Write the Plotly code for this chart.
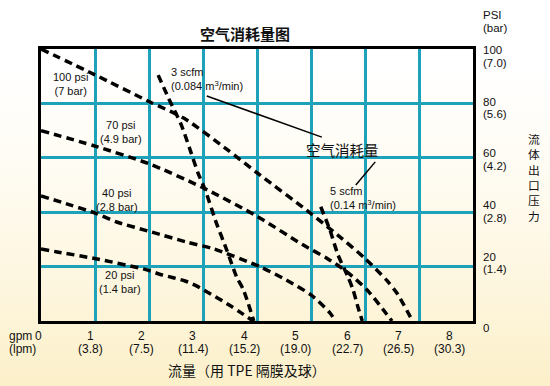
import plotly.graph_objects as go

# ---------------- data ----------------
gpm_ticks = [0, 1, 2, 3, 4, 5, 6, 7, 8]
lpm_labels = ["", "(3.8)", "(7.5)", "(11.4)", "(15.2)", "(19.0)", "(22.7)", "(26.5)", "(30.3)"]
psi_ticks = [100, 80, 60, 40, 20]
bar_labels = ["(7.0)", "(5.6)", "(4.2)", "(2.8)", "(1.4)"]

psi100_x = [0, 1, 2, 2.65, 3.45, 4.0, 5.0, 5.5, 6.0, 6.4, 6.6, 6.88]
psi100_y = [100, 90.5, 80.7, 74.5, 63, 54.5, 39.5, 31.5, 23, 15, 10, 0]

psi70_x = [0, 1, 2, 3, 4, 4.85, 5.3, 5.67, 6.04, 6.37, 6.5]
psi70_y = [70, 64.3, 57.8, 49, 38.5, 28, 23, 18, 11.4, 3.3, 0]

psi40_x = [0, 0.55, 1, 1.4, 2.05, 2.7, 3.2, 4.05, 4.55, 5.0, 5.35, 5.45]
psi40_y = [46, 42.6, 39.7, 36.4, 32.7, 29, 26.5, 20, 15, 9.6, 3, 0]

psi20_x = [0, 0.3, 1.04, 1.96, 2.2, 2.45, 2.67, 2.88, 3.1, 3.31, 3.53, 3.72, 3.93]
psi20_y = [26.5, 25.4, 22.8, 18.8, 17.2, 15.9, 14.7, 12.9, 10.4, 8, 5.3, 2.8, 0]

scfm3_x = [2.17, 2.36, 2.6, 2.76, 2.91, 3.04, 3.25, 3.44, 3.62, 3.75, 3.94]
scfm3_y = [90.4, 82, 72, 63, 54.3, 48.2, 35.9, 26.1, 16.3, 11.4, 0]

scfm5_x = [5.18, 5.35, 5.5, 5.69, 5.78, 5.87, 5.95]
scfm5_y = [42, 33.5, 24.3, 16, 11.4, 5.1, 0]

curve_labels = ["100 psi<br>(7 bar)", "70 psi<br>(4.9 bar)", "40 psi<br>(2.8 bar)", "20 psi<br>(1.4 bar)"]
curve_label_x = [0.54, 1.48, 1.41, 1.46]
curve_label_y = [87.3, 69.5, 44.5, 14.5]

right_title = "流体出口压力"

# ---------------- style ----------------
FONT = "Liberation Sans, Arial, Noto Sans CJK SC"
CJK = "Noto Sans CJK SC, Liberation Sans"
TEAL = "#1ea2ba"
W, H = 550, 386
ML, MR, MT, MB = 41, 77, 49, 65
PW, PH = W - ML - MR, H - MT - MB
LAB_R0, LAB_R1 = 0.0467, 8.451   # bottom labels sit on a slightly compressed scale

fig = go.Figure()

dash_line = dict(color="black", width=3.5, dash="8px,5px", shape="spline", smoothing=0.7)
for xs, ys in [(psi100_x, psi100_y), (psi70_x, psi70_y), (psi40_x, psi40_y),
               (psi20_x, psi20_y), (scfm3_x, scfm3_y), (scfm5_x, scfm5_y)]:
    fig.add_trace(go.Scatter(x=xs, y=ys, mode="lines", line=dash_line,
                             hoverinfo="skip", showlegend=False))

fig.add_trace(go.Scatter(x=[None], y=[None], xaxis="x2", yaxis="y2",
                         showlegend=False, hoverinfo="skip"))

ann = []
lab_font = dict(size=12, family=FONT, color="#111")
# bottom labels
for k, lab in zip(gpm_ticks, lpm_labels):
    if k < LAB_R0:
        xr, xv = "paper", (k - LAB_R0) / (LAB_R1 - LAB_R0)
    else:
        xr, xv = "x2", k
    ann.append(dict(text=str(k), x=xv, xref=xr, y=0, yref="paper", yshift=-14.5,
                    showarrow=False, xanchor="center", yanchor="middle", font=lab_font))
    if lab:
        ann.append(dict(text=lab, x=xv, xref=xr, y=0, yref="paper", yshift=-28,
                        showarrow=False, xanchor="center", yanchor="middle", font=lab_font))
ann.append(dict(text="gpm", x=(7 - ML) / PW, xref="paper", y=0, yref="paper", yshift=-14.5,
                showarrow=False, xanchor="left", yanchor="middle", font=lab_font))
ann.append(dict(text="(lpm)", x=(7 - ML) / PW, xref="paper", y=0, yref="paper", yshift=-28,
                showarrow=False, xanchor="left", yanchor="middle", font=lab_font))

# right labels
rfont = dict(size=11.5, family=FONT, color="#111")
for v, lab in zip(psi_ticks, bar_labels):
    ann.append(dict(text=str(v), x=1, xref="paper", xshift=8, y=v, yref="y2",
                    showarrow=False, xanchor="left", yanchor="middle", font=rfont))
    ann.append(dict(text=lab, x=1, xref="paper", xshift=8, y=v, yref="y2", yshift=-12.5,
                    showarrow=False, xanchor="left", yanchor="middle", font=rfont))
ann.append(dict(text="0", x=1, xref="paper", xshift=8, y=0, yref="paper", yshift=-7,
                showarrow=False, xanchor="left", yanchor="middle", font=rfont))
ann.append(dict(text="PSI", x=1, xref="paper", xshift=8, y=1, yref="paper", yshift=MT - 15,
                showarrow=False, xanchor="left", yanchor="middle", font=rfont))
ann.append(dict(text="(bar)", x=1, xref="paper", xshift=8, y=1, yref="paper", yshift=MT - 28,
                showarrow=False, xanchor="left", yanchor="middle", font=rfont))

# right vertical title (stacked characters)
ann.append(dict(text="<br>".join(right_title), x=1, xref="paper", xshift=534 - (ML + PW),
                y=1, yref="paper", yshift=MT - 176.5, showarrow=False,
                xanchor="center", yanchor="middle", align="center",
                font=dict(size=11.8, family=CJK, color="#111")))

# titles
ann.append(dict(text="<b>空气消耗量图</b>", x=(245 - ML) / PW, xref="paper", y=1, yref="paper",
                yshift=MT - 33, showarrow=False, xanchor="center", yanchor="middle",
                font=dict(size=15, family=CJK, color="#111")))
ann.append(dict(text="流量（用 TPE 隔膜及球）", x=(247 - ML) / PW, xref="paper", y=0, yref="paper",
                yshift=-49, showarrow=False, xanchor="center", yanchor="middle",
                font=dict(size=14, family=CJK, color="#111")))

# curve labels
for t, x, y in zip(curve_labels, curve_label_x, curve_label_y):
    ann.append(dict(text=t, x=x, y=y, xref="x", yref="y", showarrow=False,
                    xanchor="center", yanchor="middle", align="center",
                    font=dict(size=11, family=FONT, color="#111")))
ann.append(dict(text="3 scfm<br>(0.084 m<sup>3</sup>/min)", x=2.37, y=89, xref="x", yref="y",
                showarrow=False, xanchor="left", yanchor="middle", align="left",
                font=dict(size=11, family=FONT, color="#111")))
ann.append(dict(text="5 scfm<br>(0.14 m<sup>3</sup>/min)", x=5.31, y=45.2, xref="x", yref="y",
                showarrow=False, xanchor="left", yanchor="middle", align="left",
                font=dict(size=11, family=FONT, color="#111")))
ann.append(dict(text="空气消耗量", x=5.59, y=62.9, xref="x", yref="y",
                showarrow=False, xanchor="center", yanchor="middle",
                font=dict(size=14.5, family=CJK, color="#111")))

shapes = []
# background gradient (white at top to pale cream at bottom)
N = 48
top_c = (255, 255, 255)
bot_c = (252, 240, 202)
for i in range(N):
    p0 = H * i / N
    p1 = H * (i + 1) / N + 1
    t = max(0.0, ((p0 + p1) / 2 - 60) / (H - 60))
    t = t ** 1.3
    c = tuple(round(a + (b - a) * t) for a, b in zip(top_c, bot_c))
    shapes.append(dict(type="rect", xref="paper", yref="paper",
                       x0=-0.2, x1=1.3,
                       y0=((H - MB) - p1) / PH, y1=((H - MB) - p0) / PH,
                       fillcolor="rgb(%d,%d,%d)" % c, line=dict(width=0), layer="below"))
# leader lines
shapes.append(dict(type="line", xref="x", yref="y", x0=3.07, y0=82.7, x1=5.2, y1=67.6,
                   line=dict(color="black", width=1.5)))
shapes.append(dict(type="line", xref="x", yref="y", x0=6.19, y0=58.5, x1=5.83, y1=50,
                   line=dict(color="black", width=1.5)))

axis_common = dict(showgrid=True, gridcolor=TEAL, gridwidth=2.5, showline=True,
                   linecolor="black", linewidth=3, mirror=True, showticklabels=False,
                   ticks="", zeroline=False, fixedrange=True)

fig.update_layout(
    width=W, height=H,
    margin=dict(l=ML, r=MR, t=MT, b=MB),
    paper_bgcolor="white", plot_bgcolor="rgba(0,0,0,0)",
    xaxis=dict(range=[0, 8], dtick=1, **axis_common),
    yaxis=dict(range=[0, 100], dtick=20, **axis_common),
    xaxis2=dict(range=[LAB_R0, LAB_R1], overlaying="x", visible=False, fixedrange=True),
    yaxis2=dict(range=[-4.8, 100.39], overlaying="y", visible=False, fixedrange=True),
    annotations=ann, shapes=shapes, showlegend=False,
)

fig.write_html("out.html", config={"displayModeBar": False},
               post_script="document.body.style.margin='0px';document.body.style.padding='0px';")
